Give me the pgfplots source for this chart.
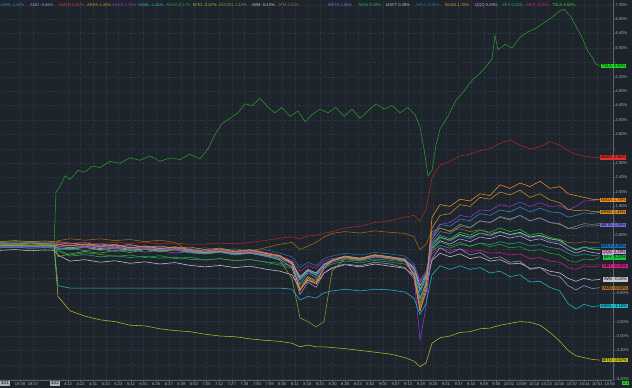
\documentclass[border=0pt]{standalone}
\usepackage{fontspec}
\setmainfont{Liberation Sans}
\usepackage{pgfplots}
\pgfplotsset{compat=1.18}
\definecolor{bgC}{HTML}{1E242C}
\definecolor{gridC}{HTML}{313A45}
\definecolor{labC}{HTML}{A8B0B8}
\definecolor{sepC}{HTML}{5A626C}
\definecolor{aaplC}{HTML}{3A86D0}
\definecolor{amdC}{HTML}{A88AD8}
\definecolor{amznC}{HTML}{B02424}
\definecolor{amznL}{HTML}{E03030}
\definecolor{arkkC}{HTML}{D08A2A}
\definecolor{xvC}{HTML}{8A3AD0}
\definecolor{asmlC}{HTML}{20B8C8}
\definecolor{avgoC}{HTML}{30A030}
\definecolor{bitoC}{HTML}{B8B820}
\definecolor{googlC}{HTML}{8A9A30}
\definecolor{iwmC}{HTML}{C8C8C8}
\definecolor{jpmC}{HTML}{A06A20}
\definecolor{metaC}{HTML}{7070E0}
\definecolor{mgkC}{HTML}{20C040}
\definecolor{msftC}{HTML}{A8C8A8}
\definecolor{nflxC}{HTML}{2070B0}
\definecolor{nvdaC}{HTML}{F09020}
\definecolor{qqqC}{HTML}{D0A0D8}
\definecolor{spyC}{HTML}{20A080}
\definecolor{sbitC}{HTML}{D02080}
\definecolor{tslaC}{HTML}{2A9A2A}
\definecolor{tslaL}{HTML}{22DD22}
\newcommand{\lf}{\fontsize{4.1}{5}\selectfont}
\begin{document}
\begin{tikzpicture}
\useasboundingbox (0,0) rectangle (632bp,388bp);
\fill[bgC] (0,0) rectangle (632bp,388bp);
\begin{axis}[
  at={(0,8bp)}, anchor=south west,
  scale only axis, width=613bp, height=380bp,
  xmin=0, xmax=613, ymin=-3.222, ymax=7.333,
  axis line style={draw=none},
  clip mode=individual,
  ytick={-3.2,-2.8,-2.4,-2.0,-1.6,-1.2,-0.8,-0.4,0,0.4,0.8,1.2,1.6,2.0,2.4,2.8,3.2,3.6,4.0,4.4,4.8,5.2,5.6,6.0,6.4,6.8,7.2},
  yticklabels={-3.20\%,,-2.40\%,-2.00\%,-1.60\%,,-0.80\%,,,,0.80\%,,1.60\%,2.00\%,2.40\%,2.80\%,,3.60\%,4.00\%,4.40\%,4.80\%,5.20\%,,6.00\%,6.40\%,6.80\%,7.20\%},
  yticklabel pos=right,
  ytick pos=right,
  xtick pos=bottom,
  tick align=outside,
  major tick length=1.5bp,
  tick style={color=sepC, line width=0.4bp},
  ticklabel style={font=\lf, text=labC, inner sep=1bp},
  xtick={20,33,68,80.6,93.2,105.8,118.4,131,143.6,156.2,168.8,181.4,194,206.6,219.2,231.8,244.4,257,269.6,282.2,294.8,307.4,320,332.6,345.2,357.8,370.4,383,395.6,408.2,420.8,433.4,446,458.6,471.2,483.8,496.4,509,521.6,534.2,546.8,559.4,572,584.6,597.2,609.8},
  xticklabels={19:39,19:47,4:12,4:22,4:41,5:10,5:23,5:42,6:01,6:26,6:37,6:49,6:53,7:05,7:12,7:27,7:38,7:50,7:59,8:05,8:11,8:18,8:24,8:30,8:36,8:43,8:52,9:00,9:07,9:13,9:19,9:25,9:31,9:37,9:43,9:49,9:55,10:02,10:09,10:16,10:23,10:30,10:37,10:44,10:51,10:58},
  grid=major,
  grid style={color=gridC, dash pattern=on 1bp off 1.5bp, line width=0.35bp},
  every axis plot/.append style={line width=0.55bp, mark=none},
]
% JPM
\addplot[jpmC] coordinates {(0,0.6)(15,0.62)(30,0.6)(45,0.61)(54,0.6)(58,0.65)(70,0.7)(85,0.66)(100,0.7)(115,0.65)(130,0.68)(145,0.62)(160,0.66)(175,0.6)(190,0.35)(205,0.3)(220,0.34)(235,0.3)(250,0.36)(265,0.45)(280,0.55)(292,0.6)(300,0.4)(308,0.5)(316,0.6)(324,0.75)(332,0.85)(345,0.9)(360,0.86)(375,0.92)(390,0.88)(405,0.85)(414,0.75)(420,0.4)(426,0.55)(432,0.9)(440,1.0)(450,0.92)(460,0.98)(470,0.9)(480,0.95)(490,0.85)(500,0.9)(510,0.82)(520,0.85)(530,0.75)(540,0.78)(550,0.7)(560,0.68)(568,0.6)(576,0.58)(584,0.62)(592,0.6)(600,0.61)};
% IWM
\addplot[iwmC] coordinates {(0,0.38)(15,0.4)(30,0.37)(45,0.39)(54,0.38)(58,0.25)(70,0.08)(85,0.12)(100,0.05)(115,0.09)(130,0.02)(145,0.06)(160,0.0)(175,0.04)(190,-0.04)(205,-0.08)(220,-0.04)(235,-0.1)(250,-0.06)(265,-0.14)(280,-0.2)(292,-0.3)(300,-0.7)(308,-0.45)(316,-0.55)(324,-0.25)(332,-0.12)(345,-0.02)(360,-0.08)(375,0.0)(390,-0.06)(405,-0.12)(414,-0.32)(420,-0.95)(426,-0.55)(432,0.1)(440,0.3)(450,0.2)(460,0.28)(470,0.15)(480,0.2)(490,0.08)(500,0.12)(510,0.0)(520,0.02)(530,-0.12)(540,-0.1)(550,-0.2)(560,-0.25)(568,-0.4)(576,-0.48)(584,-0.4)(592,-0.45)(600,-0.43)};
% SPY
\addplot[spyC] coordinates {(0,0.45)(15,0.46)(30,0.44)(45,0.45)(54,0.44)(58,0.35)(70,0.22)(85,0.26)(100,0.2)(115,0.23)(130,0.18)(145,0.21)(160,0.16)(175,0.19)(190,0.13)(205,0.11)(220,0.15)(235,0.09)(250,0.12)(265,0.06)(280,0.02)(292,-0.06)(300,-0.35)(308,-0.18)(316,-0.25)(324,-0.03)(332,0.06)(345,0.12)(360,0.08)(375,0.14)(390,0.1)(405,0.06)(414,-0.1)(420,-0.5)(426,-0.25)(432,0.36)(440,0.52)(450,0.44)(460,0.55)(470,0.49)(480,0.58)(490,0.54)(500,0.62)(510,0.56)(520,0.6)(530,0.5)(540,0.54)(550,0.46)(560,0.42)(568,0.3)(576,0.22)(584,0.28)(592,0.24)(600,0.22)};
% QQQ
\addplot[qqqC] coordinates {(0,0.50)(15,0.52)(30,0.48)(45,0.50)(54,0.49)(58,0.45)(70,0.42)(85,0.47)(100,0.40)(115,0.44)(130,0.38)(145,0.42)(160,0.36)(175,0.40)(190,0.33)(205,0.30)(220,0.35)(235,0.28)(250,0.32)(265,0.25)(280,0.20)(292,0.05)(300,-0.35)(308,-0.15)(316,-0.25)(324,0.00)(332,0.10)(345,0.18)(360,0.12)(375,0.20)(390,0.15)(405,0.10)(414,-0.10)(420,-0.60)(426,-0.30)(432,0.45)(440,0.65)(450,0.55)(460,0.70)(470,0.62)(480,0.75)(490,0.70)(500,0.80)(510,0.72)(520,0.78)(530,0.65)(540,0.70)(550,0.60)(560,0.55)(568,0.40)(576,0.30)(584,0.38)(592,0.32)(600,0.29)};
% MSFT
\addplot[msftC] coordinates {(0,0.55)(15,0.57)(30,0.53)(45,0.55)(54,0.54)(58,0.5)(70,0.45)(85,0.5)(100,0.43)(115,0.47)(130,0.41)(145,0.45)(160,0.38)(175,0.42)(190,0.35)(205,0.32)(220,0.37)(235,0.3)(250,0.34)(265,0.27)(280,0.22)(292,0.05)(300,-0.4)(308,-0.18)(316,-0.3)(324,-0.02)(332,0.1)(345,0.2)(360,0.14)(375,0.22)(390,0.17)(405,0.12)(414,-0.12)(420,-0.7)(426,-0.35)(432,0.5)(440,0.75)(450,0.66)(460,0.82)(470,0.74)(480,0.86)(490,0.8)(500,0.9)(510,0.82)(520,0.88)(530,0.75)(540,0.8)(550,0.7)(560,0.65)(568,0.5)(576,0.4)(584,0.47)(592,0.42)(600,0.39)};
% MGK
\addplot[mgkC] coordinates {(0,0.48)(15,0.5)(30,0.47)(45,0.49)(54,0.48)(58,0.43)(70,0.4)(85,0.46)(100,0.38)(115,0.43)(130,0.36)(145,0.41)(160,0.34)(175,0.39)(190,0.31)(205,0.28)(220,0.34)(235,0.26)(250,0.31)(265,0.23)(280,0.17)(292,0.0)(300,-0.45)(308,-0.2)(316,-0.32)(324,-0.03)(332,0.09)(345,0.18)(360,0.11)(375,0.2)(390,0.14)(405,0.08)(414,-0.15)(420,-0.75)(426,-0.4)(432,0.55)(440,0.8)(450,0.7)(460,0.88)(470,0.8)(480,0.95)(490,0.88)(500,1.0)(510,0.9)(520,0.96)(530,0.8)(540,0.86)(550,0.74)(560,0.68)(568,0.5)(576,0.38)(584,0.46)(592,0.41)(600,0.39)};
% AVGO
\addplot[avgoC] coordinates {(0,0.6)(15,0.58)(30,0.6)(45,0.57)(54,0.55)(58,0.4)(70,0.25)(85,0.31)(100,0.27)(115,0.21)(130,0.25)(145,0.18)(160,0.23)(175,0.15)(190,0.19)(205,0.11)(220,0.15)(235,0.09)(250,0.13)(265,0.05)(280,-0.03)(292,-0.12)(300,-0.6)(308,-0.35)(316,-0.45)(324,-0.12)(332,0.0)(345,0.08)(360,0.03)(375,0.1)(390,0.05)(405,0.0)(414,-0.25)(420,-0.95)(426,-0.5)(432,0.4)(440,0.62)(450,0.5)(460,0.6)(470,0.5)(480,0.58)(490,0.48)(500,0.55)(510,0.45)(520,0.48)(530,0.36)(540,0.4)(550,0.3)(560,0.25)(568,0.1)(576,0.05)(584,0.14)(592,0.12)(600,0.17)};
% NFLX
\addplot[nflxC] coordinates {(0,0.62)(15,0.6)(30,0.63)(45,0.6)(54,0.6)(58,0.55)(70,0.58)(85,0.5)(100,0.55)(115,0.48)(130,0.52)(145,0.45)(160,0.5)(175,0.44)(190,0.4)(205,0.45)(220,0.38)(235,0.42)(250,0.36)(265,0.4)(280,0.3)(292,0.2)(300,-0.1)(308,0.05)(316,-0.05)(324,0.15)(332,0.22)(345,0.3)(360,0.25)(375,0.32)(390,0.28)(405,0.22)(414,0.0)(420,-0.45)(426,-0.2)(432,0.5)(440,0.72)(450,0.64)(460,0.78)(470,0.7)(480,0.85)(490,0.78)(500,0.88)(510,0.8)(520,0.85)(530,0.72)(540,0.76)(550,0.65)(560,0.6)(568,0.5)(576,0.42)(584,0.48)(592,0.46)(600,0.45)};
% SBIT
\addplot[sbitC] coordinates {(0,0.55)(15,0.58)(30,0.55)(45,0.57)(54,0.56)(58,0.5)(70,0.52)(85,0.45)(100,0.5)(115,0.42)(130,0.47)(145,0.4)(160,0.44)(175,0.36)(190,0.4)(205,0.33)(220,0.37)(235,0.3)(250,0.34)(265,0.28)(280,0.22)(292,0.1)(300,-0.2)(308,-0.05)(316,-0.12)(324,0.08)(332,0.15)(345,0.2)(360,0.15)(375,0.22)(390,0.18)(405,0.12)(414,-0.05)(420,-0.5)(426,-0.25)(432,0.3)(440,0.45)(450,0.38)(460,0.42)(470,0.35)(480,0.38)(490,0.3)(500,0.32)(510,0.25)(520,0.28)(530,0.15)(540,0.18)(550,0.08)(560,0.05)(568,-0.1)(576,-0.15)(584,-0.05)(592,-0.08)(600,-0.05)};
% AMD
\addplot[amdC] coordinates {(0,0.58)(15,0.55)(30,0.58)(45,0.56)(54,0.55)(58,0.6)(70,0.55)(85,0.6)(100,0.5)(115,0.55)(130,0.45)(145,0.5)(160,0.42)(175,0.46)(190,0.38)(205,0.32)(220,0.36)(235,0.28)(250,0.3)(265,0.22)(280,0.12)(292,-0.1)(300,-0.85)(308,-0.5)(316,-0.65)(324,-0.25)(332,-0.1)(345,0.0)(360,-0.05)(375,0.05)(390,0.0)(405,-0.1)(414,-0.4)(420,-1.3)(426,-0.8)(432,0.15)(440,0.45)(450,0.3)(460,0.42)(470,0.25)(480,0.32)(490,0.15)(500,0.2)(510,0.05)(520,0.08)(530,-0.15)(540,-0.1)(550,-0.3)(560,-0.35)(568,-0.6)(576,-0.72)(584,-0.6)(592,-0.68)(600,-0.66)};
% GOOGL
\addplot[googlC] coordinates {(0,0.62)(15,0.65)(30,0.62)(45,0.64)(54,0.62)(58,0.2)(70,0.28)(85,0.35)(100,0.3)(115,0.38)(130,0.32)(145,0.4)(160,0.35)(175,0.42)(190,0.36)(205,0.3)(220,0.36)(235,0.28)(250,0.32)(265,0.25)(280,0.1)(292,-0.4)(300,-1.5)(308,-1.6)(316,-1.75)(324,-1.6)(332,-0.2)(345,0.15)(360,0.1)(375,0.2)(390,0.16)(405,0.1)(414,-0.3)(420,-1.1)(426,-0.6)(432,0.7)(440,1.0)(450,0.9)(460,1.1)(470,1.02)(480,1.2)(490,1.15)(500,1.3)(510,1.22)(520,1.35)(530,1.2)(540,1.28)(550,1.15)(560,1.1)(568,0.98)(576,1.05)(584,1.12)(592,1.1)(600,1.12)};
% META
\addplot[metaC] coordinates {(0,0.5)(15,0.52)(30,0.5)(45,0.51)(54,0.5)(58,0.55)(70,0.5)(85,0.55)(100,0.46)(115,0.5)(130,0.43)(145,0.48)(160,0.4)(175,0.45)(190,0.38)(205,0.34)(220,0.4)(235,0.32)(250,0.37)(265,0.3)(280,0.22)(292,0.0)(300,-0.55)(308,-0.25)(316,-0.38)(324,-0.05)(332,0.1)(345,0.22)(360,0.16)(375,0.25)(390,0.2)(405,0.14)(414,-0.2)(420,-1.0)(426,-0.5)(432,0.6)(440,0.9)(450,0.85)(460,1.05)(470,1.0)(480,1.2)(490,1.15)(500,1.32)(510,1.25)(520,1.35)(530,1.2)(540,1.28)(550,1.15)(560,1.12)(568,1.0)(576,0.98)(584,1.06)(592,1.05)(600,1.08)};
% AAPL
\addplot[aaplC] coordinates {(0,0.45)(15,0.47)(30,0.44)(45,0.46)(54,0.45)(58,0.4)(70,0.43)(85,0.37)(100,0.42)(115,0.35)(130,0.4)(145,0.33)(160,0.38)(175,0.3)(190,0.35)(205,0.28)(220,0.32)(235,0.25)(250,0.3)(265,0.22)(280,0.15)(292,0.0)(300,-0.45)(308,-0.2)(316,-0.3)(324,0.0)(332,0.12)(345,0.22)(360,0.16)(375,0.25)(390,0.2)(405,0.14)(414,-0.15)(420,-0.8)(426,-0.4)(432,0.8)(440,1.1)(450,1.05)(460,1.25)(470,1.2)(480,1.4)(490,1.35)(500,1.5)(510,1.45)(520,1.58)(530,1.45)(540,1.55)(550,1.45)(560,1.42)(568,1.3)(576,1.35)(584,1.42)(592,1.4)(600,1.44)};
% ASHR
\addplot[xvC] coordinates {(0,0.5)(15,0.48)(30,0.5)(45,0.49)(54,0.5)(58,0.48)(70,0.52)(85,0.46)(100,0.5)(115,0.44)(130,0.48)(145,0.42)(160,0.46)(175,0.4)(190,0.43)(205,0.36)(220,0.4)(235,0.33)(250,0.36)(265,0.28)(280,0.2)(292,0.0)(300,-0.7)(308,-0.4)(316,-0.5)(324,-0.15)(332,0.05)(345,0.15)(360,0.1)(375,0.2)(390,0.15)(405,0.08)(414,-0.35)(420,-2.1)(426,-1.2)(432,0.7)(440,1.1)(450,1.15)(460,1.35)(470,1.3)(480,1.5)(490,1.48)(500,1.65)(510,1.6)(520,1.72)(530,1.6)(540,1.7)(550,1.6)(560,1.62)(568,1.5)(576,1.6)(584,1.75)(592,1.76)(600,1.79)};
% ARKK
\addplot[arkkC] coordinates {(0,0.55)(15,0.57)(30,0.55)(45,0.56)(54,0.55)(58,0.62)(70,0.58)(85,0.52)(100,0.56)(115,0.5)(130,0.54)(145,0.47)(160,0.5)(175,0.44)(190,0.47)(205,0.4)(220,0.44)(235,0.36)(250,0.4)(265,0.32)(280,0.24)(292,0.0)(300,-0.7)(308,-0.35)(316,-0.5)(324,-0.1)(332,0.08)(345,0.2)(360,0.14)(375,0.24)(390,0.18)(405,0.1)(414,-0.3)(420,-1.2)(426,-0.6)(432,1.0)(440,1.35)(450,1.4)(460,1.65)(470,1.6)(480,1.85)(490,1.8)(500,2.0)(510,1.92)(520,2.05)(530,1.85)(540,1.95)(550,1.78)(560,1.7)(568,1.52)(576,1.48)(584,1.5)(592,1.46)(600,1.45)};
% NVDA
\addplot[nvdaC] coordinates {(0,0.52)(15,0.5)(30,0.53)(45,0.51)(54,0.5)(58,0.55)(70,0.5)(85,0.56)(100,0.48)(115,0.53)(130,0.45)(145,0.5)(160,0.43)(175,0.48)(190,0.4)(205,0.36)(220,0.42)(235,0.34)(250,0.39)(265,0.3)(280,0.22)(292,0.0)(300,-0.75)(308,-0.4)(316,-0.55)(324,-0.1)(332,0.1)(345,0.22)(360,0.16)(375,0.26)(390,0.2)(405,0.12)(414,-0.3)(420,-1.3)(426,-0.7)(432,1.3)(440,1.65)(450,1.6)(460,1.8)(470,1.75)(480,1.95)(490,1.9)(500,2.2)(510,2.1)(520,2.25)(530,2.15)(540,2.3)(550,2.1)(560,2.15)(568,1.95)(576,1.9)(584,1.85)(592,1.8)(600,1.78)};
% ASML
\addplot[asmlC] coordinates {(0,0.55)(15,0.56)(30,0.54)(45,0.55)(54,0.55)(58,-0.6)(70,-0.67)(85,-0.67)(100,-0.67)(115,-0.67)(130,-0.67)(145,-0.67)(160,-0.67)(175,-0.67)(190,-0.67)(205,-0.67)(220,-0.67)(235,-0.67)(250,-0.67)(265,-0.67)(280,-0.67)(292,-0.7)(300,-1.0)(308,-0.9)(316,-0.95)(324,-0.8)(332,-0.75)(345,-0.7)(360,-0.75)(375,-0.7)(390,-0.72)(405,-0.78)(414,-0.95)(420,-1.4)(426,-1.1)(432,-0.3)(440,-0.05)(450,-0.15)(460,-0.05)(470,-0.15)(480,-0.1)(490,-0.25)(500,-0.2)(510,-0.35)(520,-0.3)(530,-0.5)(540,-0.48)(550,-0.65)(560,-0.75)(568,-1.1)(576,-1.25)(584,-1.12)(592,-1.18)(600,-1.16)};
% BITO
\addplot[bitoC] coordinates {(0,0.53)(15,0.55)(30,0.52)(45,0.54)(54,0.5)(58,-0.9)(70,-1.3)(85,-1.45)(100,-1.55)(115,-1.6)(130,-1.7)(145,-1.72)(160,-1.8)(175,-1.85)(190,-1.88)(205,-1.95)(220,-2.0)(235,-2.02)(250,-2.08)(265,-2.12)(280,-2.15)(292,-2.2)(300,-2.3)(308,-2.25)(316,-2.3)(324,-2.3)(332,-2.32)(345,-2.35)(360,-2.4)(375,-2.45)(390,-2.5)(405,-2.6)(414,-2.7)(420,-2.85)(426,-2.75)(432,-2.2)(440,-2.05)(450,-2.0)(460,-1.9)(470,-1.88)(480,-1.8)(490,-1.78)(500,-1.7)(510,-1.65)(520,-1.6)(530,-1.62)(540,-1.7)(550,-1.9)(560,-2.15)(568,-2.4)(576,-2.55)(584,-2.6)(592,-2.65)(600,-2.67)};
% AMZN
\addplot[amznC] coordinates {(0,0.55)(15,0.56)(30,0.54)(45,0.55)(54,0.55)(58,0.6)(70,0.58)(85,0.6)(100,0.56)(115,0.6)(130,0.57)(145,0.6)(160,0.56)(175,0.58)(190,0.55)(205,0.55)(220,0.58)(235,0.56)(250,0.6)(265,0.65)(280,0.72)(292,0.75)(300,0.7)(308,0.78)(316,0.8)(324,0.85)(332,0.9)(345,1.0)(360,1.05)(375,1.15)(390,1.2)(405,1.3)(414,1.35)(420,1.2)(426,1.5)(432,2.4)(440,2.75)(450,2.85)(460,3.0)(470,3.05)(480,3.15)(490,3.2)(500,3.35)(510,3.45)(520,3.3)(530,3.2)(540,3.25)(550,3.4)(560,3.3)(568,3.15)(576,3.05)(584,3.0)(592,2.96)(600,2.96)};
% TSLA
\addplot[tslaC] coordinates {(0,0.53)(15,0.55)(30,0.52)(45,0.54)(54,0.52)(56,2.0)(60,2.15)(65,2.45)(70,2.35)(78,2.6)(85,2.55)(92,2.72)(100,2.68)(110,2.85)(120,2.8)(130,2.95)(140,2.88)(150,3.0)(160,2.85)(170,2.95)(180,2.9)(190,3.05)(200,2.92)(208,3.2)(215,3.6)(222,3.9)(230,4.05)(238,4.2)(245,4.45)(252,4.4)(260,4.6)(268,4.35)(275,4.2)(282,4.35)(290,4.1)(298,4.25)(305,3.95)(312,4.15)(320,4.3)(328,4.2)(336,4.35)(344,4.1)(352,4.3)(360,4.05)(368,4.25)(376,4.45)(384,4.3)(392,4.4)(400,4.2)(408,4.35)(415,4.15)(420,3.8)(424,3.2)(428,2.45)(432,2.6)(436,3.3)(440,3.75)(448,4.1)(456,4.55)(464,4.8)(472,5.1)(480,5.3)(488,5.55)(492,5.7)(495,6.35)(498,5.95)(505,6.1)(512,6.0)(520,6.3)(528,6.45)(536,6.55)(544,6.7)(552,6.85)(558,7.0)(564,7.08)(570,6.9)(576,6.6)(582,6.3)(588,5.9)(592,5.75)(596,5.55)(600,5.5)};
% separator lines
\draw[sepC, line width=0.6bp] (rel axis cs:1,0) -- (rel axis cs:1,1);
\draw[sepC, line width=0.4bp] (rel axis cs:0,0) -- (rel axis cs:1,0);
% top legend
\begin{scope}[every node/.style={anchor=west, font=\lf, inner sep=0}]
\node[text=aaplC] at (axis cs:1,7.19) {AAPL 1.44\%};
\node[text=amdC] at (axis cs:30,7.19) {AMD -0.66\%};
\node[text=amznL] at (axis cs:59,7.19) {AMZN 2.96\%};
\node[text=arkkC] at (axis cs:87,7.19) {ARKK 1.45\%};
\node[text=xvC] at (axis cs:112,7.19) {ASHR 1.79\%};
\node[text=asmlC] at (axis cs:138,7.19) {ASML -1.16\%};
\node[text=avgoC] at (axis cs:166,7.19) {AVGO 0.17\%};
\node[text=bitoC] at (axis cs:193,7.19) {BITO -2.67\%};
\node[text=googlC] at (axis cs:219,7.19) {GOOGL 1.12\%};
\node[text=iwmC] at (axis cs:252,7.19) {IWM -0.43\%};
\node[text=jpmC] at (axis cs:278,7.19) {JPM 0.61\%};
\node[text=metaC] at (axis cs:328,7.19) {META 1.08\%};
\node[text=mgkC] at (axis cs:359,7.19) {MGK 0.39\%};
\node[text=msftC] at (axis cs:386,7.19) {MSFT 0.39\%};
\node[text=nflxC] at (axis cs:416,7.19) {NFLX 0.45\%};
\node[text=nvdaC] at (axis cs:445,7.19) {NVDA 1.78\%};
\node[text=qqqC] at (axis cs:475,7.19) {QQQ 0.29\%};
\node[text=spyC] at (axis cs:502,7.19) {SPY 0.22\%};
\node[text=sbitC] at (axis cs:526,7.19) {SBIT -0.05\%};
\node[text=tslaL] at (axis cs:552,7.19) {TSLA 5.50\%};
\end{scope}
% right labels
\begin{scope}[every node/.style={font=\lf, inner sep=0.7bp, text=black}]
\node[fill=tslaL, anchor=east] at (axis cs:613,5.50) {TSLA};
\node[fill=tslaL, anchor=west] at (axis cs:613,5.50) {5.50\%};
\node[fill=amznL, anchor=east] at (axis cs:613,2.96) {AMZN};
\node[fill=amznL, anchor=west] at (axis cs:613,2.96) {2.96\%};
\node[fill=nvdaC, anchor=east] at (axis cs:613,1.78) {NVDA};
\node[fill=nvdaC, anchor=west] at (axis cs:613,1.78) {1.78\%};
\node[fill=arkkC, anchor=east] at (axis cs:613,1.45) {ARKK};
\node[fill=arkkC, anchor=west] at (axis cs:613,1.45) {1.45\%};
\node[fill=metaC, anchor=east] at (axis cs:613,1.08) {META};
\node[fill=metaC, anchor=west] at (axis cs:613,1.08) {1.08\%};
\node[fill=nflxC, anchor=east] at (axis cs:613,0.50) {NFLX};
\node[fill=nflxC, anchor=west] at (axis cs:613,0.50) {0.45\%};
\node[fill=qqqC, anchor=east] at (axis cs:613,0.33) {QQQ};
\node[fill=qqqC, anchor=west] at (axis cs:613,0.33) {0.29\%};
\node[fill=mgkC, anchor=east] at (axis cs:613,0.18) {SPY};
\node[fill=mgkC, anchor=west] at (axis cs:613,0.18) {0.22\%};
\node[fill=sbitC, anchor=east] at (axis cs:613,-0.05) {SBIT};
\node[fill=sbitC, anchor=west] at (axis cs:613,-0.05) {-0.05\%};
\node[fill=iwmC, anchor=east] at (axis cs:613,-0.43) {IWM};
\node[fill=iwmC, anchor=west] at (axis cs:613,-0.43) {-0.43\%};
\node[fill=jpmC, anchor=east] at (axis cs:613,-0.66) {AMD};
\node[fill=jpmC, anchor=west] at (axis cs:613,-0.66) {-0.66\%};
\node[fill=asmlC, anchor=east] at (axis cs:613,-1.16) {ASML};
\node[fill=asmlC, anchor=west] at (axis cs:613,-1.16) {-1.16\%};
\node[fill=bitoC, anchor=east] at (axis cs:613,-2.67) {BITO};
\node[fill=bitoC, anchor=west] at (axis cs:613,-2.67) {-2.67\%};
\end{scope}
% bottom markers
\begin{scope}[every node/.style={font=\lf, inner sep=0.7bp, text=black, anchor=north}]
\node[fill=labC] at (axis cs:5,-3.25) {3/21};
\node[fill=labC] at (axis cs:55,-3.25) {3/22};
\node[fill=tslaL, anchor=north west] at (axis cs:622,-3.25) {4:1};
\end{scope}
\end{axis}
\end{tikzpicture}
\end{document}
